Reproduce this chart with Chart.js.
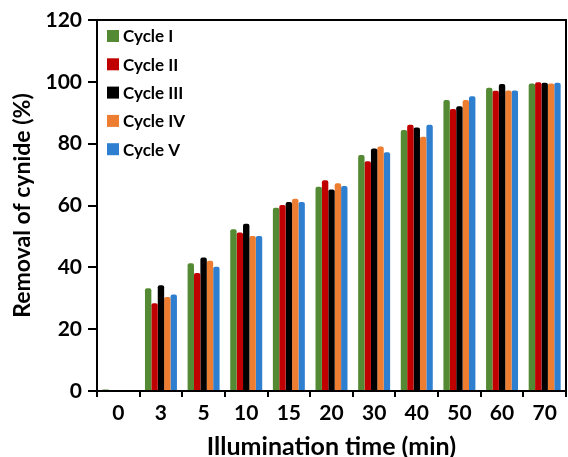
<!DOCTYPE html>
<html>
<head>
<meta charset="utf-8">
<script src="https://cdn.jsdelivr.net/npm/chart.js@4/dist/chart.umd.min.js"></script>
<style>
  html, body { margin: 0; padding: 0; background: #fff; }
  #wrap { width: 568px; height: 457px; }
</style>
</head>
<body>
<div id="wrap"><canvas id="removalChart" width="568" height="457"></canvas></div>
<script>
// Illumination time categories (min)
const timeLabels = ['0', '3', '5', '10', '15', '20', '30', '40', '50', '60', '70'];

// Removal of cyanide (%) per cycle
const cycle1 = [0.5, 33.2, 41.3, 52.3, 59.3, 66.1, 76.3, 84.4, 94.1, 98.1, 99.5];
const cycle2 = [0, 28.4, 38.2, 51.3, 60.2, 68.2, 74.3, 86.1, 91.2, 97.1, 99.9];
const cycle3 = [0, 34.2, 43.2, 54.1, 61.1, 65.2, 78.4, 85.2, 92.1, 99.3, 99.7];
const cycle4 = [0, 30.4, 42.1, 50.1, 62.2, 67.2, 79.1, 82.2, 94.1, 97.2, 99.5];
const cycle5 = [0, 31.2, 40.2, 50.1, 61.1, 66.3, 77.2, 86.1, 95.3, 97.2, 99.7];

const cycleNames = ['Cycle I', 'Cycle II', 'Cycle III', 'Cycle IV', 'Cycle V'];
const cycleColors = ['#558A34', '#C00000', '#000000', '#ED7D31', '#2F7FD0'];

const yTicks = [0, 20, 40, 60, 80, 100, 120];

const FONT = 'Lato, "Open Sans", sans-serif';

// Legend sits inside the plot, top-left, stacked vertically
const insideLegend = {
    id: 'insideLegend',
    afterDraw(chart) {
        const c = chart.ctx;
        c.save();
        c.font = 'bold 17px ' + FONT;
        c.textBaseline = 'middle';
        chart.data.datasets.forEach((ds, i) => {
            const y = 36 + i * 28.3;
            c.fillStyle = ds.backgroundColor;
            c.fillRect(107, y - 6, 12, 12);
            c.fillStyle = '#000';
            c.fillText(ds.label, 123, y + 1);
        });
        c.restore();
    }
};

// Closed frame: top and right edges of the plot box
const plotFrame = {
    id: 'plotFrame',
    afterDraw(chart) {
        const a = chart.chartArea;
        const c = chart.ctx;
        c.save();
        c.strokeStyle = '#000';
        c.lineWidth = 2;
        c.beginPath();
        c.moveTo(a.left, a.top);
        c.lineTo(a.right, a.top);
        c.lineTo(a.right, a.bottom);
        c.stroke();
        c.restore();
    }
};

const seriesList = [cycle1, cycle2, cycle3, cycle4, cycle5];

new Chart(document.getElementById('removalChart'), {
    type: 'bar',
    data: {
        labels: timeLabels,
        datasets: seriesList.map((vals, i) => ({
            label: cycleNames[i],
            data: vals,
            backgroundColor: cycleColors[i],
            borderRadius: { topLeft: 2, topRight: 2 },
            borderSkipped: 'start',
            categoryPercentage: 0.75,
            barPercentage: 1.0
        }))
    },
    options: {
        responsive: false,
        animation: false,
        layout: { padding: { top: 20, right: 2, left: 0, bottom: 0 } },
        plugins: {
            legend: { display: false },
            tooltip: { enabled: false }
        },
        scales: {
            x: {
                grid: {
                    offset: true,
                    drawOnChartArea: false,
                    drawTicks: true,
                    tickLength: 6,
                    lineWidth: 2,
                    color: '#000'
                },
                border: { color: '#000', width: 2 },
                ticks: {
                    color: '#000',
                    font: { family: FONT, size: 21, weight: 'bold' },
                    padding: 4,
                    maxRotation: 0
                },
                title: {
                    display: true,
                    text: 'Illumination time (min)',
                    color: '#000',
                    font: { family: FONT, size: 25, weight: 'bold' },
                    padding: { top: 0, bottom: -5 }
                },
                afterFit(scale) { scale.height = 66; }
            },
            y: {
                min: 0,
                max: 120,
                afterBuildTicks(scale) { scale.ticks = yTicks.map(v => ({ value: v })); },
                grid: {
                    drawOnChartArea: false,
                    drawTicks: true,
                    tickLength: 9,
                    lineWidth: 2,
                    color: '#000'
                },
                border: { color: '#000', width: 2 },
                ticks: {
                    color: '#000',
                    font: { family: FONT, size: 21, weight: 'bold' },
                    padding: 6
                },
                title: {
                    display: true,
                    text: 'Removal of cynide (%)',
                    color: '#000',
                    font: { family: FONT, size: 23, weight: 'bold' },
                    padding: { top: 9, bottom: 0 }
                },
                afterFit(scale) { scale.width = 97; }
            }
        }
    },
    plugins: [insideLegend, plotFrame]
});
</script>
</body>
</html>
